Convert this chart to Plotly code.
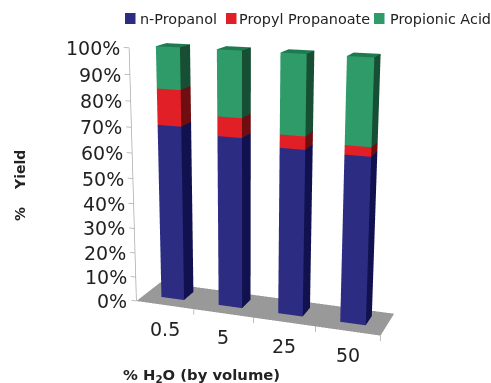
import plotly.graph_objects as go

W, H = 491, 383

# Stacked yields (%) per water content
categories = ["0.5", "5", "25", "50"]
n_propanol = [70, 67.5, 65, 64.5]
propyl_propanoate = [14, 7.5, 5, 3.5]
propionic_acid = [16, 25, 30, 32]
z_ticks = [0, 10, 20, 30, 40, 50, 60, 70, 80, 90, 100]

series = [
    ("n-Propanol", n_propanol, "#2B2C82", "#11114F"),
    ("Propyl Propanoate", propyl_propanoate, "#E01F26", "#6F0D10"),
    ("Propionic Acid", propionic_acid, "#2E9B68", "#164F34"),
]
TOP_GREEN = "#1F7A50"
FLOOR = "#999999"
AXIS = "#AAAAAA"
INK = "#222222"
FONT = "DejaVu Sans"

BAR_HALF = 0.2
DEPTH = (0.335, 0.754)
PLATE_LEFT = -0.5
X_LO, X_HI = -0.6, 3.8
Z_LO, Z_HI = -11, 106

# The plate is not square to the box: it skews sideways and tips along
# both of its edges, which gives the oblique look of the chart.
SKEW_X_PER_Y = 0.263
TIP_Z_PER_X = -1.90
TIP_Z_PER_Y = 4.67


def place(x, y, z):
    return (
        x + SKEW_X_PER_Y * y,
        y,
        z + TIP_Z_PER_X * (x - PLATE_LEFT) + TIP_Z_PER_Y * y,
    )


class Faces:
    """Collects flat quads of one colour into a single mesh."""

    def __init__(self):
        self.x, self.y, self.z, self.i, self.j, self.k = [], [], [], [], [], []

    def quad(self, corners):
        n = len(self.x)
        for corner in corners:
            px_, py_, pz_ = place(*corner)
            self.x.append(px_)
            self.y.append(py_)
            self.z.append(pz_)
        self.i += [n, n]
        self.j += [n + 1, n + 2]
        self.k += [n + 2, n + 3]

    def trace(self, color):
        return go.Mesh3d(
            x=self.x, y=self.y, z=self.z, i=self.i, j=self.j, k=self.k,
            color=color, flatshading=True, hoverinfo="skip", showlegend=False,
            lighting=dict(ambient=1, diffuse=0, specular=0, roughness=1, fresnel=0),
        )


traces = []

floor = Faces()
floor.quad([(PLATE_LEFT, 0, 0), (3.5, 0, 0), (3.5, 1, 0), (PLATE_LEFT, 1, 0)])
traces.append(floor.trace(FLOOR))

y0, y1 = DEPTH
fronts = [Faces() for _ in series]
sides = [Faces() for _ in series]
tops = Faces()
for c in range(len(categories)):
    x0, x1 = c - BAR_HALF, c + BAR_HALF
    base = 0
    for s, (_, values, _, _) in enumerate(series):
        head = base + values[c]
        fronts[s].quad([(x0, y0, base), (x1, y0, base), (x1, y0, head), (x0, y0, head)])
        sides[s].quad([(x1, y0, base), (x1, y1, base), (x1, y1, head), (x1, y0, head)])
        base = head
    tops.quad([(x0, y0, base), (x1, y0, base), (x1, y1, base), (x0, y1, base)])

for s, (_, _, front_color, side_color) in enumerate(series):
    traces.append(fronts[s].trace(front_color))
    traces.append(sides[s].trace(side_color))
traces.append(tops.trace(TOP_GREEN))


def segments(pairs):
    """One line trace holding many separate two-point strokes."""
    xs, ys, zs = [], [], []
    for start, end in pairs:
        for point in (start, end):
            xs.append(point[0])
            ys.append(point[1])
            zs.append(point[2])
        xs.append(None)
        ys.append(None)
        zs.append(None)
    return go.Scatter3d(x=xs, y=ys, z=zs, mode="lines", line=dict(color=AXIS, width=1.5),
                        hoverinfo="skip", showlegend=False)


# Value axis with its ticks, then the category separators under the front edge
strokes = [(place(PLATE_LEFT, 0, 0), place(PLATE_LEFT, 0, 100))]
strokes += [(place(PLATE_LEFT, 0, v), place(PLATE_LEFT - 0.09, 0, v)) for v in z_ticks]
strokes += [(place(c + 0.5, 0, 0), place(c + 0.5, 0, -2.2)) for c in range(len(categories))]
traces.append(segments(strokes))

fig = go.Figure(traces)


def px(x, y):
    return x / W, 1 - y / H


annotations = []
shapes = []


def text(x, y, s, size, bold=False, anchor="center", angle=0):
    fx, fy = px(x, y)
    annotations.append(dict(
        x=fx, y=fy, xref="paper", yref="paper", text=f"<b>{s}</b>" if bold else s,
        showarrow=False, xanchor=anchor, yanchor="middle", textangle=angle,
        font=dict(family=FONT, size=size, color=INK),
    ))


# Legend row
legend_slots = [(125, 138), (226, 237), (374, 388)]
for (name, _, color, _), (sx, tx) in zip(series, legend_slots):
    x0, y0_ = px(sx, 24)
    x1, y1_ = px(sx + 10.5, 13)
    shapes.append(dict(type="rect", xref="paper", yref="paper", x0=x0, y0=y0_, x1=x1, y1=y1_,
                       fillcolor=color, line=dict(width=0)))
    text(tx, 19, name, 14.4, anchor="left")

text(201, 375, "% H<sub>2</sub>O (by volume)", 14.8, bold=True)
text(20, 170, "Yield", 14, bold=True, angle=-90)
text(20, 214, "%", 14, bold=True, angle=-90)

scene_labels = [
    dict(x=PLATE_LEFT, y=0, z=v, text=f"{v}%", showarrow=False, xanchor="right", yanchor="middle",
         xshift=-7, font=dict(family=FONT, size=19, color=INK))
    for v in z_ticks
]
for c_i, c in enumerate(categories):
    lx, ly, lz = place(c_i, 0, 0)
    scene_labels.append(dict(x=lx, y=ly, z=lz, text=c, showarrow=False, yanchor="middle",
                             yshift=-24, font=dict(family=FONT, size=19, color=INK)))

axis_off = dict(showbackground=False, showgrid=False, zeroline=False, showspikes=False,
                title=dict(text=""), visible=False)

fig.update_layout(
    width=W, height=H, margin=dict(l=0, r=0, t=0, b=0), paper_bgcolor="white",
    showlegend=False, annotations=annotations, shapes=shapes,
    scene=dict(
        domain=dict(x=[0, 1], y=[0, 1]),
        aspectmode="manual",
        aspectratio=dict(x=1.3001, y=0.1353, z=1.4373),
        camera=dict(
            projection=dict(type="perspective"),
            eye=dict(x=0.2851, y=-2.1755, z=0.2325),
            center=dict(x=-0.0840, y=0.0275, z=-0.033),
            up=dict(x=0, y=0, z=1),
        ),
        xaxis=dict(axis_off, range=[X_LO, X_HI]),
        yaxis=dict(axis_off, range=[0, 1]),
        zaxis=dict(axis_off, range=[Z_LO, Z_HI]),
        annotations=scene_labels,
    ),
)

fig.write_html("out.html", config=dict(displayModeBar=False))
